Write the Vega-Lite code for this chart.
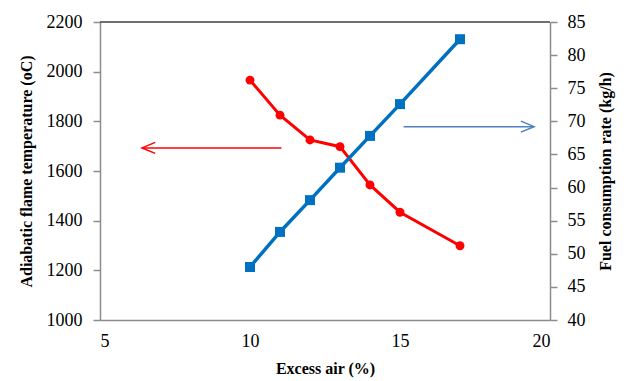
{
  "$schema": "https://vega.github.io/schema/vega-lite/v6.json",
  "width": 450,
  "height": 298,
  "autosize": "none",
  "padding": {"left": 100, "top": 22, "right": 74, "bottom": 61},
  "background": "white",
  "datasets": {
    "temperature": [
      {"excess_air": 10, "flame_temp": 1966},
      {"excess_air": 11, "flame_temp": 1825},
      {"excess_air": 12, "flame_temp": 1725},
      {"excess_air": 13, "flame_temp": 1698},
      {"excess_air": 14, "flame_temp": 1544},
      {"excess_air": 15, "flame_temp": 1434},
      {"excess_air": 17, "flame_temp": 1299}
    ],
    "fuel": [
      {"excess_air": 10, "fuel_rate": 48.0},
      {"excess_air": 11, "fuel_rate": 53.3},
      {"excess_air": 12, "fuel_rate": 58.1},
      {"excess_air": 13, "fuel_rate": 63.0},
      {"excess_air": 14, "fuel_rate": 67.8},
      {"excess_air": 15, "fuel_rate": 72.6},
      {"excess_air": 17, "fuel_rate": 82.4}
    ],
    "temp_arrow": [{"start": 11.05, "tip": 6.4, "level": 1693}],
    "fuel_arrow": [{"start": 15.12, "tip": 19.47, "level": 69.2}]
  },
  "config": {
    "view": {"stroke": null},
    "font": "Liberation Serif",
    "style": {"guide-label": {"font": "'Liberation Serif', 'Times New Roman', serif"}},
    "axis": {
      "grid": false,
      "labelFont": "'Liberation Serif', 'Times New Roman', serif",
      "labelFontSize": 18,
      "labelFontWeight": "normal",
      "labelColor": "#000000",
      "titleFont": "Liberation Serif",
      "titleFontSize": 16,
      "titleFontWeight": "bold",
      "titleColor": "#000000",
      "domainColor": "#8c8c8c",
      "domainWidth": 1.5,
      "tickColor": "#8c8c8c",
      "tickWidth": 1.5
    }
  },
  "layer": [
    {
      "encoding": {
        "y": {
          "type": "quantitative",
          "scale": {"domain": [1000, 2200], "nice": false},
          "axis": {
            "orient": "left",
            "title": "Adiabatic flame temperature (oC)",
            "values": [1000, 1200, 1400, 1600, 1800, 2000, 2200],
            "format": "d",
            "tickSize": 7,
            "labelPadding": 11,
            "titlePadding": 12
          }
        }
      },
      "layer": [
        {
          "data": {"name": "temperature"},
          "mark": {
            "type": "line",
            "color": "#ff0000",
            "strokeWidth": 3,
            "point": {"filled": true, "shape": "circle", "size": 80, "color": "#ff0000"}
          },
          "encoding": {
            "x": {
              "field": "excess_air",
              "type": "quantitative",
              "scale": {"domain": [5, 20], "nice": false},
              "axis": {
                "title": "Excess air (%)",
                "values": [5, 10, 15, 20],
                "format": "d",
                "ticks": false,
                "labelPadding": 12,
                "titlePadding": 10
              }
            },
            "y": {"field": "flame_temp"}
          }
        },
        {
          "data": {"name": "temp_arrow"},
          "mark": {"type": "rule", "color": "#ff0000", "strokeWidth": 1.5},
          "encoding": {
            "x": {"field": "start", "type": "quantitative"},
            "x2": {"field": "tip"},
            "y": {"field": "level"}
          }
        },
        {
          "data": {"name": "temp_arrow"},
          "mark": {
            "type": "point",
            "shape": "M2.4,-1L0,0L2.4,1",
            "filled": false,
            "size": 121,
            "color": "#ff0000",
            "strokeWidth": 1.5,
            "opacity": 1
          },
          "encoding": {
            "x": {"field": "tip", "type": "quantitative"},
            "y": {"field": "level"}
          }
        },
        {
          "data": {"values": [{}]},
          "mark": {"type": "rule", "color": "#404040", "strokeWidth": 1.5},
          "encoding": {"y": {"datum": 2200}}
        }
      ]
    },
    {
      "encoding": {
        "y": {
          "type": "quantitative",
          "scale": {"domain": [40, 85], "nice": false},
          "axis": {
            "orient": "right",
            "title": "Fuel consumption rate (kg/h)",
            "titleAngle": 270,
            "values": [40, 45, 50, 55, 60, 65, 70, 75, 80, 85],
            "format": "d",
            "tickSize": 7,
            "labelPadding": 10,
            "titlePadding": 28
          }
        }
      },
      "layer": [
        {
          "data": {"name": "fuel"},
          "mark": {
            "type": "line",
            "color": "#0070c0",
            "strokeWidth": 3.5,
            "point": {"filled": true, "shape": "square", "size": 100, "color": "#0070c0"}
          },
          "encoding": {
            "x": {"field": "excess_air", "type": "quantitative"},
            "y": {"field": "fuel_rate"}
          }
        },
        {
          "data": {"name": "fuel_arrow"},
          "mark": {"type": "rule", "color": "#4f81bd", "strokeWidth": 1.5},
          "encoding": {
            "x": {"field": "start", "type": "quantitative"},
            "x2": {"field": "tip"},
            "y": {"field": "level"}
          }
        },
        {
          "data": {"name": "fuel_arrow"},
          "mark": {
            "type": "point",
            "shape": "M-2.4,-1L0,0L-2.4,1",
            "filled": false,
            "size": 121,
            "color": "#4f81bd",
            "strokeWidth": 1.5,
            "opacity": 1
          },
          "encoding": {
            "x": {"field": "tip", "type": "quantitative"},
            "y": {"field": "level"}
          }
        }
      ]
    }
  ],
  "resolve": {"scale": {"y": "independent"}, "axis": {"y": "independent"}}
}
